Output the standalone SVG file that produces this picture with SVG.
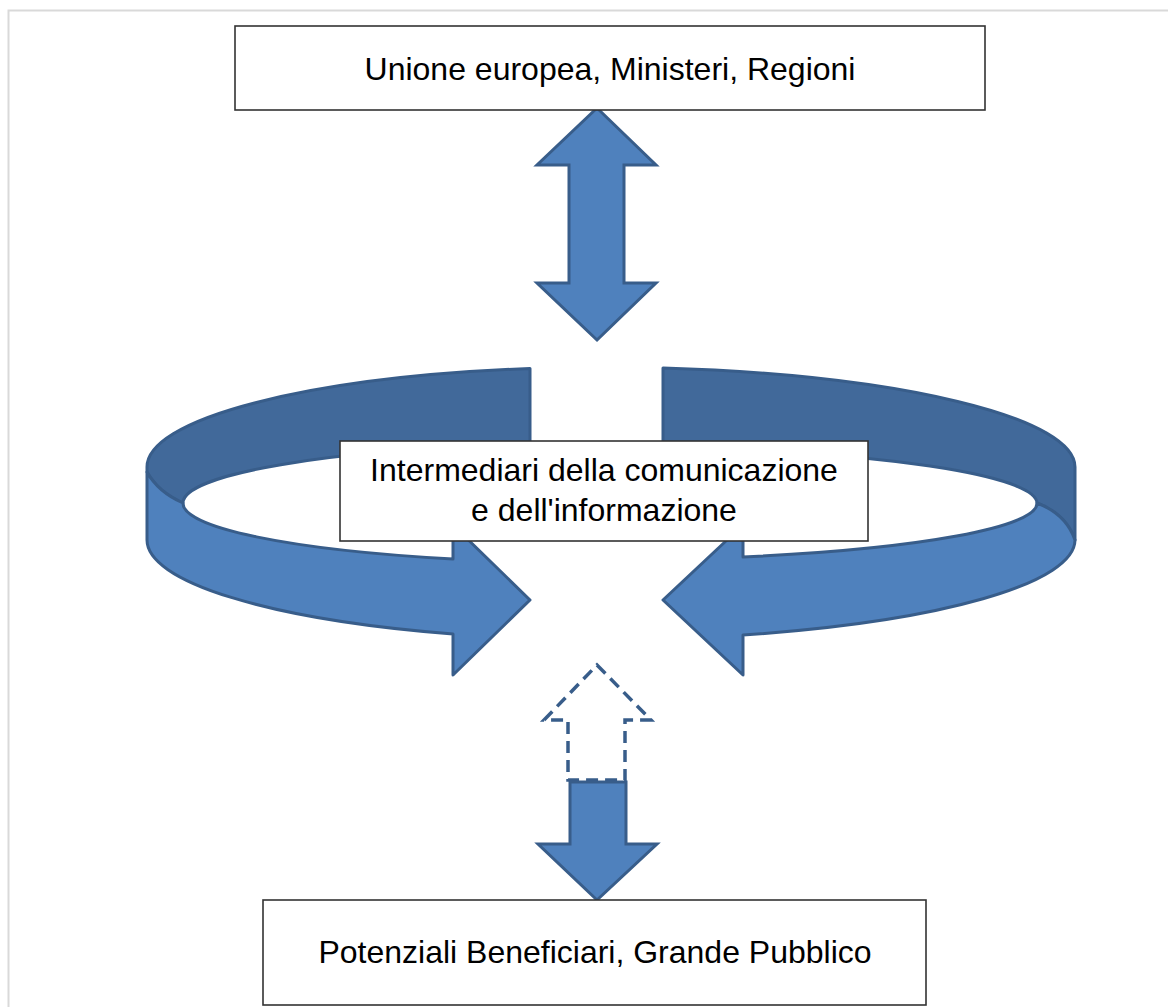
<svg xmlns="http://www.w3.org/2000/svg" width="1168" height="1007" viewBox="0 0 1168 1007">
<style>
.box{fill:#ffffff;stroke:#333333;stroke-width:1.6}
.lbl{font-family:"Liberation Sans",Arial,sans-serif;font-size:32px;fill:#000000;text-anchor:middle}
.arr{fill:#4f81bd;stroke:#385d8a;stroke-width:3;stroke-linejoin:miter}
.back{fill:#41699a;stroke:#385d8a;stroke-width:3;stroke-linejoin:round}
.front{fill:#4f81bd;stroke:#385d8a;stroke-width:3;stroke-linejoin:round}
.dash{fill:#ffffff;stroke:#385d8a;stroke-width:3.5;stroke-dasharray:12 7}
</style>
<rect width="1168" height="1007" fill="#ffffff"/>
<path d="M8.5 1007 L8.5 10.5 L1168 10.5" fill="none" stroke="#d9d9d9" stroke-width="2"/>
<g id="connectors">
  <path id="double-arrow" class="arr" d="M597 108 L656 165 L624 165 L624 283 L656 283 L597 340 L537 283 L569 283 L569 165 L537 165 Z"/>
  <path id="ribbon-left-back" class="back" d="M530 368.5 A463 100 0 0 0 147 467 L147 472 Q158 492 183 503 A427 60 0 0 1 530 444 Z"/>
  <path id="ribbon-left-front" class="front" d="M147 472 L147 540 A463 100 0 0 0 453 634 L453 675 L530 600 L453 525 L453 559 A427 60 0 0 1 183 503 Q158 492 147 472 Z"/>
  <path id="ribbon-right-back" class="back" d="M663 368 A479 100 0 0 1 1075 467 L1075 540 Q1066 514 1037 503 A441 57 0 0 0 663 447 Z"/>
  <path id="ribbon-right-front" class="front" d="M1075 540 A479 100 0 0 1 743 635 L743 675 L663 600 L743 525 L743 557 A441 57 0 0 0 1037 503 Q1066 514 1075 540 Z"/>
  <path id="dashed-up" class="dash" d="M597 665 L651 720 L625 720 L625 780 L568 780 L568 720 L544 720 Z"/>
  <path id="down-arrow" class="arr" d="M570 782 L626 782 L626 844 L657 844 L597 900 L538 844 L570 844 Z"/>
</g>
<g id="node-top">
  <rect class="box" x="235" y="26" width="750" height="84"/>
  <text class="lbl" x="610" y="80">Unione europea, Ministeri, Regioni</text>
</g>
<g id="node-middle">
  <rect class="box" x="340" y="441" width="528" height="100"/>
  <text class="lbl" x="604" y="481">Intermediari della comunicazione</text>
  <text class="lbl" x="604" y="521">e dell'informazione</text>
</g>
<g id="node-bottom">
  <rect class="box" x="263" y="900" width="663" height="105"/>
  <text class="lbl" x="595" y="963">Potenziali Beneficiari, Grande Pubblico</text>
</g>
</svg>
